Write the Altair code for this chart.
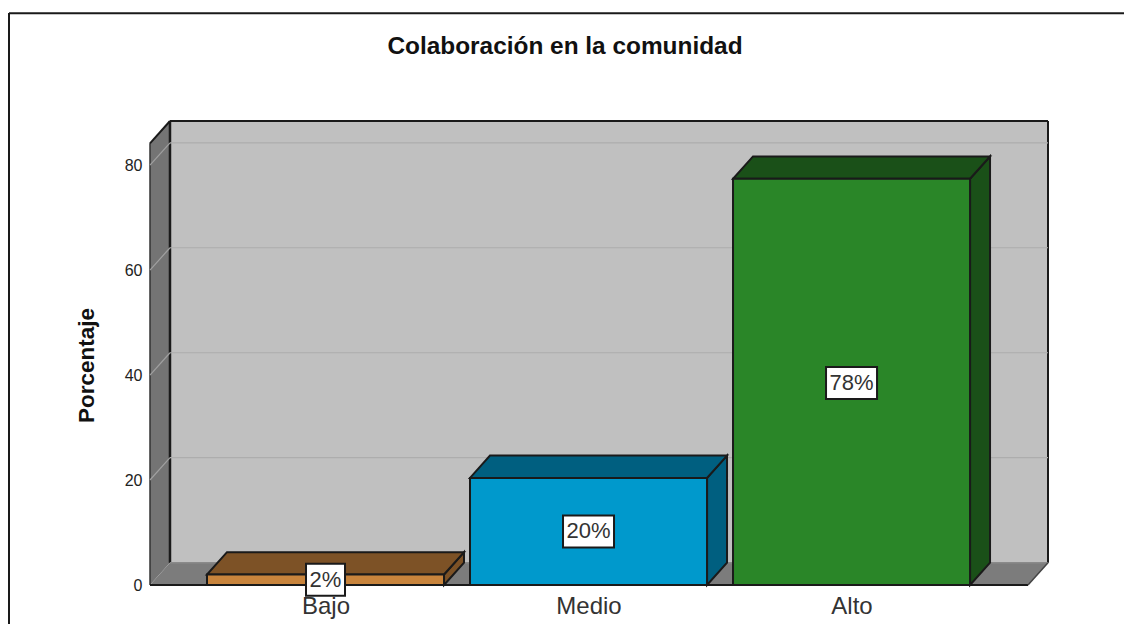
import altair as alt
import pandas as pd

categories = ["Bajo", "Medio", "Alto"]
values = [2.0, 20.4, 77.4]
labels = ["2%", "20%", "78%"]
label_heights = [1.0, 10.2, 38.5]
box_widths = [39, 51, 51]
front_colors = ["#c8843c", "#0099cc", "#2a8628"]
top_colors = ["#7d5226", "#005f80", "#1a5018"]
positions = [1, 2, 3]
ticks = [0, 20, 40, 60, 80]

BLACK = "#1a1a1a"
# depth of the pseudo-3D box, in axis units
DX = 0.076
DY = 4.25
X_MIN, X_MAX = 0.3327, 3.747
Y_MAX = 88.4
HALF = 0.4506
FRONT_R = X_MAX - DX

xs = alt.Scale(domain=[X_MIN, X_MAX], nice=False, zero=False)
ys = alt.Scale(domain=[0, Y_MAX], nice=False)

x_axis = alt.Axis(
    values=positions, title=None, domain=False, ticks=False, grid=False,
    labelExpr="datum.value == 1 ? 'Bajo' : datum.value == 2 ? 'Medio' : 'Alto'",
    labelFont="Liberation Sans", labelFontSize=24, labelColor="#333333",
    labelPadding=9, labelOverlap=False, labelFlush=False,
)
y_axis = alt.Axis(
    values=ticks, title="Porcentaje", format="d", domain=False, grid=False, ticks=False,
    labelFont="Liberation Sans", labelFontSize=16, labelColor="#222222", labelPadding=8,
    titleFont="Liberation Sans", titleFontSize=22.5, titleFontWeight="bold", titleColor="#111111",
    titleX=-52, titleY=244,
)
X = alt.X("x:Q", scale=xs, axis=x_axis)
Y = alt.Y("y:Q", scale=ys, axis=y_axis)


def area(rows, color, stroke=None, sw=2.0):
    df = pd.DataFrame(rows, columns=["x", "y", "y2"])
    kw = dict(stroke=stroke, strokeWidth=sw) if stroke else dict(strokeWidth=0)
    return alt.Chart(df).mark_area(color=color, opacity=1, **kw).encode(x=X, y=Y, y2="y2:Q")


def seg(x0, y0, x1, y1, color, sw=1.0):
    df = pd.DataFrame({"x": [x0, x1], "y": [y0, y1]})
    return alt.Chart(df).mark_line(color=color, strokeWidth=sw).encode(x=X, y=Y)


layers = []

# back wall, left wall, floor
layers.append(area([(X_MIN + DX, DY, Y_MAX), (X_MAX, DY, Y_MAX)], "#c0c0c0"))
layers.append(area([(X_MIN, 0, Y_MAX - DY), (X_MIN + DX, DY, Y_MAX)], "#747474"))
layers.append(area([(X_MIN, 0, 0), (X_MIN + DX, 0, DY), (FRONT_R, 0, DY), (X_MAX, DY, DY)], "#7c7c7c"))

# box edges
layers.append(seg(X_MIN + DX, Y_MAX, X_MAX, Y_MAX, BLACK, 2))
layers.append(seg(X_MIN + DX, DY, X_MIN + DX, Y_MAX, BLACK, 2.5))
layers.append(seg(X_MAX, DY, X_MAX, Y_MAX, BLACK, 2))
layers.append(seg(X_MIN, 0, X_MIN, Y_MAX - DY, "#333333", 1.5))
layers.append(seg(X_MIN, Y_MAX - DY, X_MIN + DX, Y_MAX, BLACK, 2))
layers.append(seg(X_MIN + DX, DY, X_MAX, DY, "#8a8a8a", 1.5))
layers.append(seg(X_MIN, 0, FRONT_R, 0, BLACK, 2))
layers.append(seg(FRONT_R, 0, X_MAX, DY, "#444444", 1.5))

# gridlines on the walls
for t in ticks[1:]:
    layers.append(seg(X_MIN + DX, t + DY, X_MAX, t + DY, "#adadad", 1.2))
    layers.append(seg(X_MIN, t, X_MIN + DX, t + DY, "#a0a0a0", 1.2))

# bars
for pos, v, fc, tc in zip(positions, values, front_colors, top_colors):
    x0, x1 = pos - HALF, pos + HALF
    layers.append(area([(x1, 0, v), (x1 + DX, DY, v + DY)], tc, BLACK))
    layers.append(area([(x0, v, v), (x0 + DX, v, v + DY), (x1, v, v + DY), (x1 + DX, v + DY, v + DY)], tc, BLACK))
    layers.append(area([(x0, 0, v), (x1, 0, v)], fc, BLACK))

# value labels in white boxes
for pos, m, w in zip(positions, label_heights, box_widths):
    hw = (w / 2) / 263.0
    hh = 16 / 5.25
    layers.append(area([(pos - hw, m - hh, m + hh), (pos + hw, m - hh, m + hh)], "white", BLACK, 2))

df = pd.DataFrame({"x": positions, "y": label_heights, "label": labels})
layers.append(
    alt.Chart(df).mark_text(font="Liberation Sans", fontSize=22, color="#333333", baseline="middle").encode(
        x=X, y=Y, text="label:N"
    )
)

# chart title
layers.append(
    alt.Chart(pd.DataFrame({"t": ["Colaboración en la comunidad"]})).mark_text(
        font="Liberation Sans", fontSize=24.4, fontWeight="bold", color="#111111", baseline="middle"
    ).encode(x=alt.value(415), y=alt.value(-74), text="t:N")
)

# screenshot frame: top and left edges
layers.append(
    alt.Chart(pd.DataFrame({"a": [0]})).mark_rule(color=BLACK, strokeWidth=2).encode(
        x=alt.value(-141), x2=alt.value(974), y=alt.value(-107.7)
    )
)
layers.append(
    alt.Chart(pd.DataFrame({"a": [0]})).mark_rule(color=BLACK, strokeWidth=2).encode(
        x=alt.value(-141), y=alt.value(-108), y2=alt.value(503)
    )
)

chart = (
    alt.layer(*layers)
    .resolve_scale(x="shared", y="shared")
    .properties(
        width=898,
        height=464,
        autosize=alt.AutoSizeParams(type="none"),
        padding={"left": 142, "top": 113, "right": 76, "bottom": 39},
        background="white",
    )
    .configure_view(stroke=None)
)

chart.save("out.html", embed_options={"renderer": "svg", "actions": False})
